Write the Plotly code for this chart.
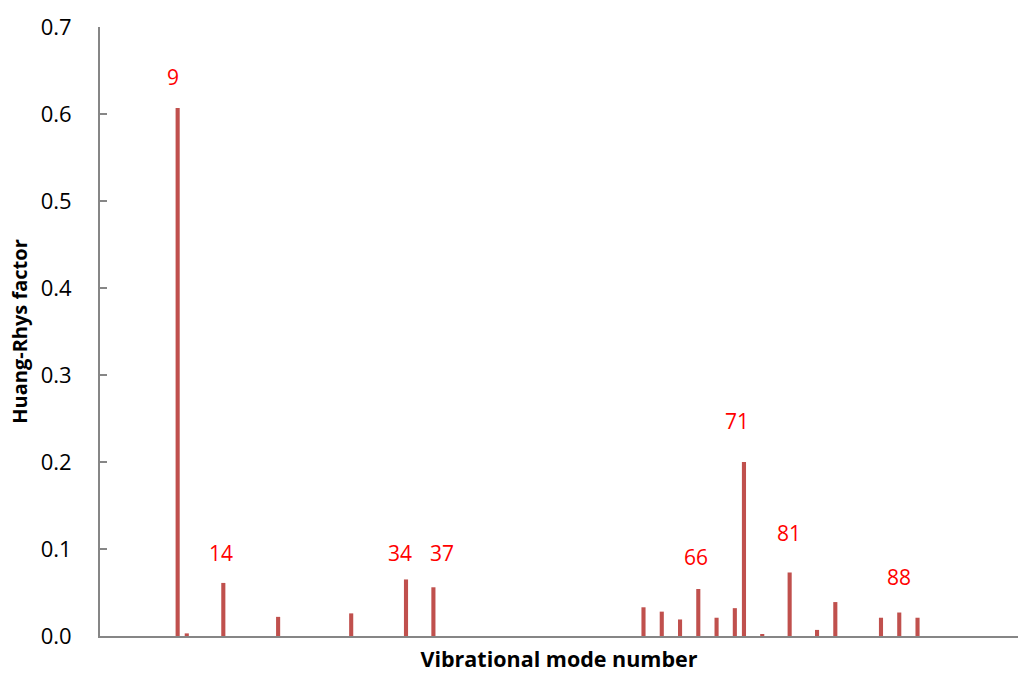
import plotly.graph_objects as go

# Vibrational modes 1..100 with non-zero Huang-Rhys factors
n_modes = 100
modes = [9, 10, 14, 20, 28, 34, 37, 60, 62, 64, 66, 68, 70, 71, 73, 76, 79, 81, 86, 88, 90]
hr_factor = [0.607, 0.003, 0.061, 0.022, 0.026, 0.065, 0.056, 0.033, 0.028, 0.019,
             0.054, 0.021, 0.032, 0.200, 0.002, 0.073, 0.007, 0.039, 0.021, 0.027, 0.021]

# Mode-number labels written above the main peaks
peak_labels = ["9", "14", "34", "37", "66", "71", "81", "88"]
label_x = [8.48, 13.73, 33.38, 37.9, 65.72, 70.23, 75.92, 88.0]
label_y = [0.643, 0.0954, 0.0954, 0.0954, 0.0903, 0.247, 0.118, 0.0678]

font_family = "Open Sans, Liberation Sans, sans-serif"
bar_color = "#C0504D"
axis_color = "#868686"

fig = go.Figure()
fig.add_trace(go.Bar(
    x=modes,
    y=hr_factor,
    width=0.45,
    marker=dict(color=bar_color, line=dict(width=0)),
    showlegend=False,
    hoverinfo="x+y",
))

for txt, lx, ly in zip(peak_labels, label_x, label_y):
    fig.add_annotation(
        x=lx, y=ly, text=txt, showarrow=False,
        xanchor="center", yanchor="middle",
        font=dict(family=font_family, size=21, color="#FF0000"),
    )

fig.update_layout(
    width=1018,
    height=673,
    margin=dict(l=100, r=0, t=27, b=37),
    paper_bgcolor="white",
    plot_bgcolor="white",
    font=dict(family=font_family, color="#000000"),
    bargap=0.55,
    xaxis=dict(
        range=[0.5, 101.0],
        showline=True,
        linecolor=axis_color,
        linewidth=2,
        showgrid=False,
        zeroline=False,
        showticklabels=False,
        ticks="",
        title=dict(
            text="<b>Vibrational mode number</b>",
            font=dict(family=font_family, size=21.5, color="#000000"),
            standoff=16,
        ),
    ),
    yaxis=dict(
        range=[0, 0.7],
        dtick=0.1,
        tickformat=".1f",
        showline=True,
        linecolor=axis_color,
        linewidth=2,
        showgrid=False,
        zeroline=False,
        ticks="inside",
        ticklen=7,
        tickwidth=2,
        tickcolor=axis_color,
        ticklabelstandoff=22,
        tickfont=dict(family=font_family, size=22, color="#000000"),
        title=dict(
            text="<b>Huang-Rhys factor</b>",
            font=dict(family=font_family, size=20, color="#000000"),
            standoff=8,
        ),
    ),
)

fig.write_html("out.html")
